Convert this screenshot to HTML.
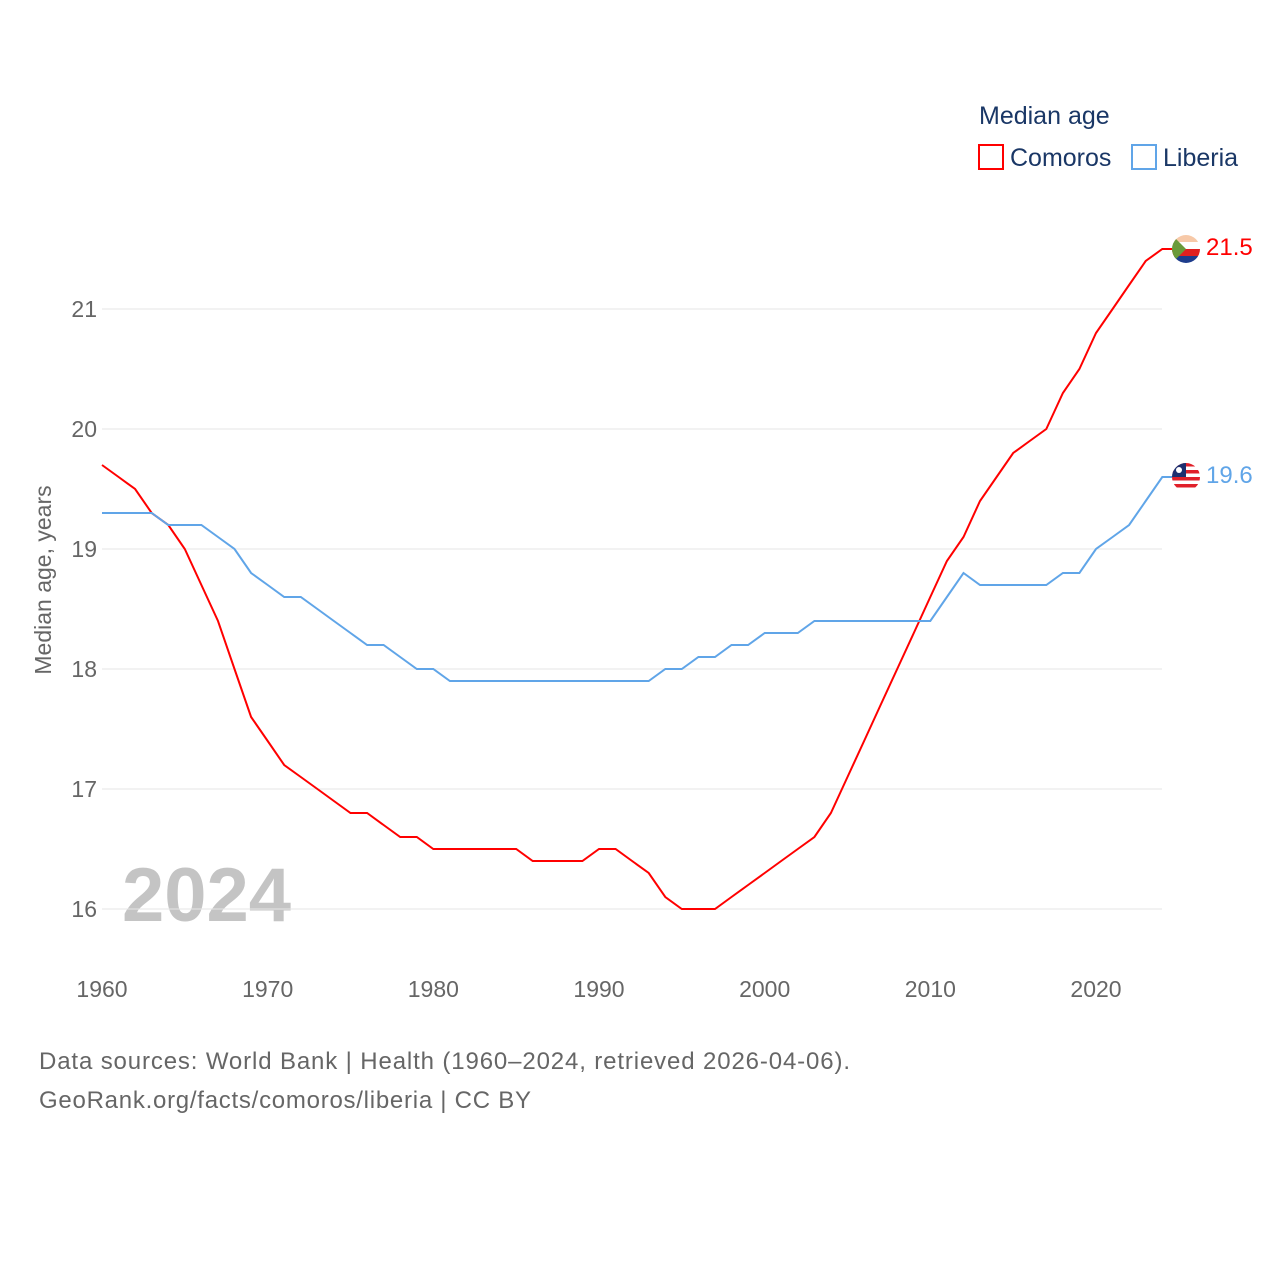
<!DOCTYPE html>
<html><head><meta charset="utf-8">
<style>
body{margin:0;background:#fff;}
svg{display:block;font-family:"Liberation Sans",sans-serif;}
</style></head>
<body>
<svg id="chart" width="1280" height="1280" viewBox="0 0 1280 1280">
<text x="979" y="124" font-size="25" fill="#1a3766">Median age</text>
<g>
<rect x="979" y="145" width="24" height="24" fill="none" stroke="#f00" stroke-width="2"/>
<text x="1010" y="166" font-size="25" fill="#1a3766">Comoros</text></g>
<g>
<rect x="1132" y="145" width="24" height="24" fill="none" stroke="#60a5e8" stroke-width="2"/>
<text x="1163" y="166" font-size="25" fill="#1a3766">Liberia</text></g>
<text transform="translate(51,580) rotate(-90)" text-anchor="middle" font-size="23" fill="#666">Median age, years</text>
<text x="122" y="921" font-size="76" font-weight="bold" fill="#c4c4c4">2024</text>
<g id="grid"></g><g id="lines"></g><g id="labels"></g>
<text x="39" y="1069" font-size="24" fill="#666" textLength="811">Data sources: World Bank | Health (1960–2024, retrieved 2026-04-06).</text>
<text x="39" y="1108" font-size="24" fill="#666" textLength="492">GeoRank.org/facts/comoros/liberia | CC BY</text>
</svg>
<script>
const years=[];for(let y=1960;y<=2024;y++)years.push(y);
const comoros=[19.7,19.6,19.5,19.3,19.2,19.0,18.7,18.4,18.0,17.6,17.4,17.2,17.1,17.0,16.9,16.8,16.8,16.7,16.6,16.6,16.5,16.5,16.5,16.5,16.5,16.5,16.4,16.4,16.4,16.4,16.5,16.5,16.4,16.3,16.1,16.0,16.0,16.0,16.1,16.2,16.3,16.4,16.5,16.6,16.8,17.1,17.4,17.7,18.0,18.3,18.6,18.9,19.1,19.4,19.6,19.8,19.9,20.0,20.3,20.5,20.8,21.0,21.2,21.4,21.5];
const liberia=[19.3,19.3,19.3,19.3,19.2,19.2,19.2,19.1,19.0,18.8,18.7,18.6,18.6,18.5,18.4,18.3,18.2,18.2,18.1,18.0,18.0,17.9,17.9,17.9,17.9,17.9,17.9,17.9,17.9,17.9,17.9,17.9,17.9,17.9,18.0,18.0,18.1,18.1,18.2,18.2,18.3,18.3,18.3,18.4,18.4,18.4,18.4,18.4,18.4,18.4,18.4,18.6,18.8,18.7,18.7,18.7,18.7,18.7,18.8,18.8,19.0,19.1,19.2,19.4,19.6];
const yTicks=[16,17,18,19,20,21];
const xTicks=[1960,1970,1980,1990,2000,2010,2020];
const NS="http://www.w3.org/2000/svg";
const X=v=>102+(v-1960)*(994/60);
const Y=v=>909-(v-16)*120;
function mk(tag,attrs,parent){const e=document.createElementNS(NS,tag);for(const k in attrs)e.setAttribute(k,attrs[k]);parent.appendChild(e);return e;}
const grid=document.getElementById('grid'),lines=document.getElementById('lines'),labels=document.getElementById('labels');
yTicks.forEach(t=>{
 const l=mk('line',{x1:102,x2:1162,y1:Y(t),y2:Y(t),stroke:'#e6e6e6','stroke-width':1},grid);
 
 
 const tx=mk('text',{x:97,y:Y(t)+8,'text-anchor':'end','font-size':23,fill:'#666'},grid);
 tx.textContent=t;
 
 
});
xTicks.forEach(t=>{
 const tx=mk('text',{x:X(t),y:997,'text-anchor':'middle','font-size':23,fill:'#666'},grid);
 tx.textContent=t;
 
 
});
function series(vals,color,name,flagFn){
 const d=vals.map((v,i)=>(i?'L':'M')+X(years[i]).toFixed(1)+','+Y(v).toFixed(1)).join(' ');
 const last=vals[vals.length-1];
 const p=mk('path',{d:d+' L'+(X(2024)+10)+','+Y(last),fill:'none',stroke:color,'stroke-width':2},lines);
 
 
 const g=mk('g',{},labels);
 
 
 flagFn(g,1186,Y(last));
 const t=mk('text',{x:1206,y:Y(last)+6,'font-size':24,fill:color},labels);
 t.textContent=last.toFixed(1);
 
 
}
series(comoros,'#f00','comoros',(g,cx,cy)=>{
 mk('clipPath',{id:'cc'},g).appendChild(document.createElementNS(NS,'circle'));
 const c=g.querySelector('circle');c.setAttribute('cx',cx);c.setAttribute('cy',cy);c.setAttribute('r',14);
 const h=mk('g',{'clip-path':'url(#cc)'},g);
 [['#f7c9a8',0],['#fff',7],['#e02020',14],['#1d3c8c',21]].forEach(([f,o])=>mk('rect',{x:cx-14,y:cy-14+o,width:28,height:7,fill:f},h));
 mk('polygon',{points:`${cx-14},${cy-14} ${cx},${cy} ${cx-14},${cy+14}`,fill:'#6a9a3a'},h);
});
series(liberia,'#60a5e8','liberia',(g,cx,cy)=>{
 mk('clipPath',{id:'lc'},g).appendChild(document.createElementNS(NS,'circle'));
 const c=g.querySelectorAll('circle')[0];c.setAttribute('cx',cx);c.setAttribute('cy',cy);c.setAttribute('r',14);
 const h=mk('g',{'clip-path':'url(#lc)'},g);
 for(let i=0;i<8;i++)mk('rect',{x:cx-14,y:cy-14+i*3.5,width:28,height:3.5,fill:i%2?'#fff':'#e0202a'},h);
 mk('rect',{x:cx-14,y:cy-14,width:14,height:14,fill:'#1d2f6f'},h);
 mk('circle',{cx:cx-7,cy:cy-7,r:3,fill:'#fff'},h);
});
</script>
</body></html>
